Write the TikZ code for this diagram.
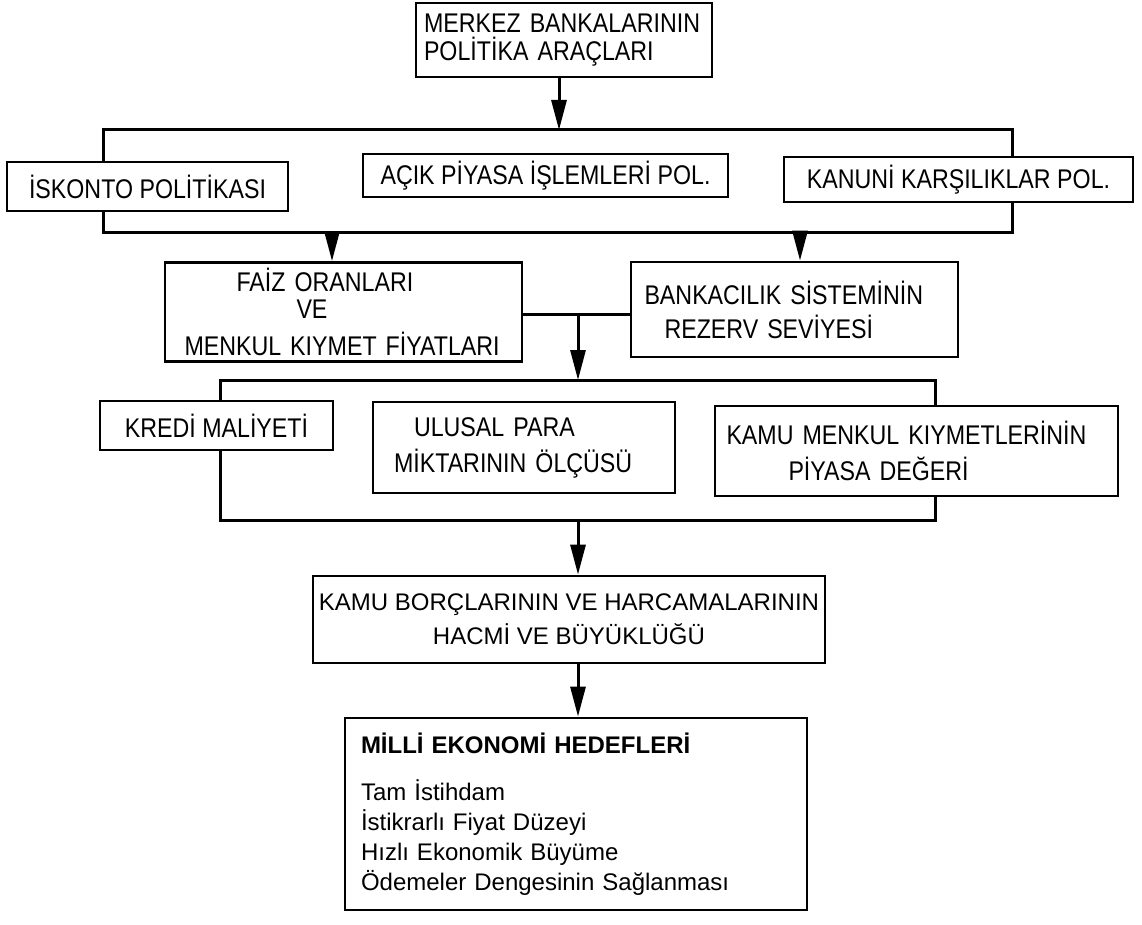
\documentclass[tikz,border=0pt]{standalone}
\usepackage{fontspec}
\setmainfont{Liberation Sans}
\newfontfamily\narrowfont[FakeStretch=0.86]{Liberation Sans}
\usetikzlibrary{arrows.meta}
\tikzset{
  box/.style={draw, line width=2.8pt, inner sep=0pt, font=\narrowfont\fontsize{27}{30}\selectfont},
  wbox/.style={draw, line width=2.8pt, inner sep=0pt, font=\fontsize{24}{34}\selectfont},
  conn/.style={line width=3pt},
  arr/.style={line width=3pt, -{Triangle[length=30pt,width=15pt]}}
}
\begin{document}
\begin{tikzpicture}[x=1pt,y=-1pt]
\useasboundingbox (0,0) rectangle (1142,925);
% boxes
\node[box, minimum width=296pt, minimum height=74pt, text width=280pt, align=left, font=\narrowfont\fontsize{27}{28}\selectfont] (top) at (564,40) {MERKEZ BANKALARININ\\POLİTİKA ARAÇLARI};
\node[box, minimum width=281pt, minimum height=49pt, align=center] (isk) at (147.5,186.5) {İSKONTO POLİTİKASI};
\node[box, minimum width=365pt, minimum height=43pt, align=center] (acik) at (545.5,175.5) {AÇIK PİYASA İŞLEMLERİ POL.};
\node[box, minimum width=349pt, minimum height=45pt, align=center] (kan) at (958.5,179.5) {KANUNİ KARŞILIKLAR POL.};
\node[box, minimum width=357pt, minimum height=99pt, text width=340pt, align=left] (faiz) at (343.5,312) {\hspace*{63pt}FAİZ ORANLARI\\[-3pt]\hspace*{123pt}VE\\[7pt]\hspace*{11pt}MENKUL KIYMET FİYATLARI};
\node[box, minimum width=327pt, minimum height=95pt, text width=300pt, align=left, font=\narrowfont\fontsize{27}{34}\selectfont] (bank) at (794.5,309.5) {BANKACILIK SİSTEMİNİN\\\hspace*{20pt}REZERV SEVİYESİ};
\node[box, minimum width=233pt, minimum height=49pt, align=center] (kredi) at (216.5,425.5) {KREDİ MALİYETİ};
\node[box, minimum width=302pt, minimum height=91pt, text width=260pt, align=left, font=\narrowfont\fontsize{27}{36}\selectfont] (ulusal) at (524,447.5) {\hspace*{20pt}ULUSAL PARA\\MİKTARININ ÖLÇÜSÜ};
\node[box, minimum width=403pt, minimum height=90pt, text width=380pt, align=left, font=\narrowfont\fontsize{27}{36}\selectfont] (kamum) at (916.5,451) {KAMU MENKUL KIYMETLERİNİN\\\hspace*{62pt}PİYASA DEĞERİ};
\node[wbox, minimum width=512pt, minimum height=87pt, align=center] (borc) at (569,619.5) {KAMU BORÇLARININ VE HARCAMALARININ\\HACMİ VE BÜYÜKLÜĞÜ};
\node[wbox, minimum width=462pt, minimum height=192pt, text width=430pt, align=left, font=\fontsize{24}{30}\selectfont] (milli) at (576,814) {{\bfseries MİLLİ EKONOMİ HEDEFLERİ}\\[17pt]Tam İstihdam\\İstikrarlı Fiyat Düzeyi\\Hızlı Ekonomik Büyüme\\Ödemeler Dengesinin Sağlanması};
% junction coordinates
\coordinate (h1l) at (103,130);
\coordinate (h1r) at (1012,130);
\coordinate (h2l) at (103,233);
\coordinate (h2r) at (1012,233);
\coordinate (h3l) at (220,380);
\coordinate (h3r) at (935,380);
\coordinate (h4l) at (220,520);
\coordinate (h4r) at (935,520);
% connectors
\draw[arr] (top.south -| 559,0) -- (559,130);
\draw[conn] (isk.north -| h1l) -- (h1l) -- (h1r) -- (kan.north -| h1r);
\draw[conn] (isk.south -| h2l) -- (h2l) -- (h2r) -- (kan.south -| h2r);
\draw[arr] (332,233) -- (faiz.north -| 332,0);
\draw[arr] (800,233) -- (bank.north -| 800,0);
\draw[conn] (faiz.east |- 0,314) -- (bank.west |- 0,314);
\draw[arr] (578,314) -- (578,380);
\draw[conn] (kredi.north -| h3l) -- (h3l) -- (h3r) -- (kamum.north -| h3r);
\draw[conn] (kredi.south -| h4l) -- (h4l) -- (h4r) -- (kamum.south -| h4r);
\draw[arr] (578,520) -- (borc.north -| 578,0);
\draw[arr] (borc.south -| 578,0) -- (milli.north -| 578,0);
\end{tikzpicture}
\end{document}
